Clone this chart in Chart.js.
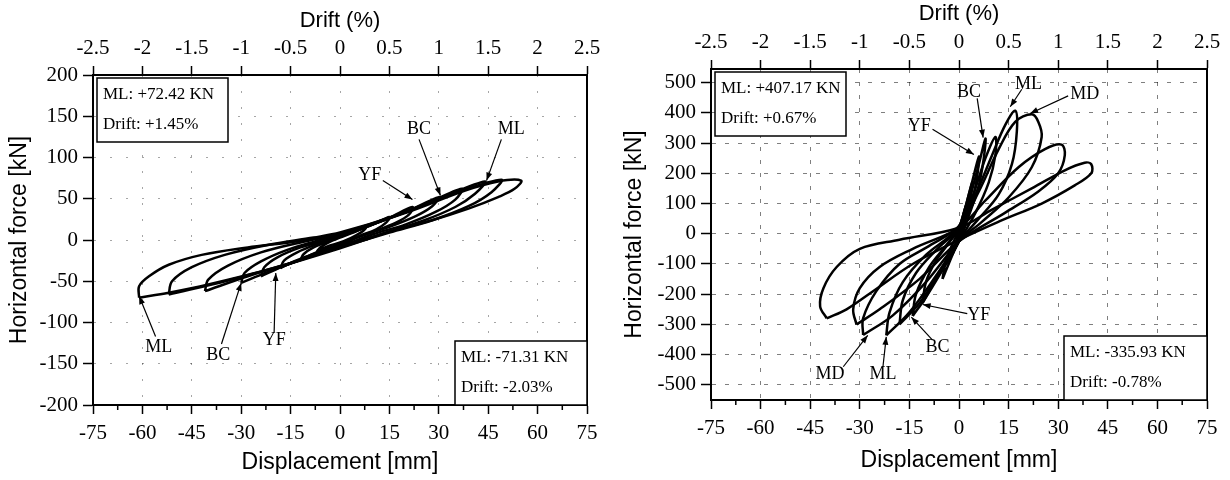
<!DOCTYPE html>
<html>
<head>
<meta charset="utf-8">
<script src="https://cdn.jsdelivr.net/npm/chart.js@4.4.1/dist/chart.umd.min.js"></script>
<style>
  body { margin: 0; background: #fff; }
  #wrap { position: relative; width: 1230px; height: 480px; }
  canvas { position: absolute; top: 0; }
</style>
</head>
<body>
<div id="wrap">
  <canvas id="leftChart" width="615" height="480" style="left:0"></canvas>
  <canvas id="rightChart" width="615" height="480" style="left:615px"></canvas>
</div>
<script>
// axis ticks
const dispTicks = [-75, -60, -45, -30, -15, 0, 15, 30, 45, 60, 75];
const driftTicks = [-2.5, -2, -1.5, -1, -0.5, 0, 0.5, 1, 1.5, 2, 2.5];
const forceTicksA = [-200, -150, -100, -50, 0, 50, 100, 150, 200];
const forceTicksB = [-500, -400, -300, -200, -100, 0, 100, 200, 300, 400, 500];

// left specimen, one array per cycle: [displacement mm, force kN]
const cycleA1 = [[-7,-14],[-6,-9],[-4,-4],[0,3],[4,9],[8,16],[7,11],[5,6],[2,0],[0,-3],[-4,-8],[-7,-14]];
const cycleA2 = [[-12,-24],[-11,-17],[-8,-9],[-3,-1],[0,4],[5,11],[10,19],[15,28],[14,21],[11,13],[6,5],[0,-5],[-6,-13],[-12,-24]];
const cycleA3 = [[-18,-34],[-17,-25],[-13,-15],[-7,-5],[0,5],[7,14],[15,27],[22,40],[21,31],[17,21],[10,10],[3,0],[0,-6],[-8,-17],[-14,-26],[-18,-34]];
const cycleA4 = [[-24,-44],[-23,-33],[-19,-21],[-12,-9],[-4,0],[0,6],[10,19],[20,34],[30,52],[28,41],[23,29],[15,16],[6,4],[0,-7],[-10,-21],[-18,-33],[-24,-44]];
const cycleA5 = [[-30,-52],[-29,-40],[-24,-26],[-16,-12],[-6,0],[0,7],[12,22],[25,42],[37,62],[35,49],[29,34],[20,19],[10,7],[0,-8],[-12,-24],[-22,-39],[-30,-52]];
const cycleA6 = [[-41,-62],[-40,-48],[-34,-31],[-24,-15],[-12,-3],[0,8],[15,27],[30,50],[44,71],[41,56],[35,40],[25,23],[13,8],[0,-8],[-14,-27],[-28,-44],[-41,-62]];
const cycleA7 = [[-52,-66],[-51,-50],[-45,-33],[-35,-18],[-22,-6],[-8,3],[0,9],[18,31],[35,57],[49,73],[46,58],[39,41],[28,24],[15,9],[0,-9],[-16,-29],[-34,-49],[-52,-66]];
const cycleA8 = [[-61,-70],[-61,-56],[-58,-44],[-52,-30],[-42,-18],[-28,-9],[-14,-2],[0,8],[20,33],[38,60],[48,71],[55,72],[53,62],[48,52],[39,38],[28,24],[15,10],[0,-10],[-20,-34],[-40,-54],[-52,-64],[-61,-70]];

// right specimen
const cycleB1 = [[-2,-70],[-1,-30],[0,10],[1,50],[2,90],[1.5,55],[0.5,10],[0,-15],[-1,-40],[-2,-70]];
const cycleB2 = [[-5,-150],[-4,-90],[-2,-35],[0,15],[2,90],[4,170],[3.5,120],[2,50],[0,-20],[-2,-70],[-5,-150]];
const cycleB3 = [[-11,-230],[-10,-160],[-7,-90],[-3,-30],[0,20],[3,130],[6,255],[5.5,190],[4,110],[1,20],[0,-25],[-4,-100],[-8,-170],[-11,-230]];
const cycleB4 = [[-14,-272],[-13,-200],[-9,-110],[-4,-40],[0,20],[3,110],[6,230],[8,315],[7.5,250],[6,160],[3,60],[0,-25],[-5,-120],[-10,-210],[-14,-272]];
const cycleB5 = [[-18,-300],[-17,-220],[-13,-130],[-7,-55],[0,20],[4,120],[8,250],[11,320],[11,260],[9,170],[5,70],[0,-25],[-6,-130],[-12,-230],[-18,-300]];
const cycleB6 = [[-22,-336],[-21,-260],[-17,-160],[-10,-70],[-3,-10],[0,25],[5,130],[10,260],[14,360],[17,407],[17.5,340],[16,230],[12,130],[6,50],[0,-25],[-7,-140],[-15,-260],[-22,-336]];
const cycleB7 = [[-29,-335],[-29,-280],[-25,-190],[-18,-100],[-9,-40],[0,25],[6,140],[12,280],[17,370],[22,395],[24,370],[25,320],[22,220],[15,120],[7,40],[0,-25],[-10,-160],[-20,-270],[-29,-335]];
const cycleB8 = [[-31,-300],[-32,-250],[-30,-180],[-24,-110],[-14,-50],[0,20],[8,110],[18,220],[26,280],[31,295],[32,260],[30,200],[24,140],[14,70],[0,-25],[-12,-150],[-24,-250],[-31,-300]];
const cycleB9 = [[-40,-280],[-42,-240],[-41,-180],[-37,-110],[-30,-50],[-18,-20],[0,20],[10,80],[22,150],[32,210],[38,235],[40,230],[40,200],[35,160],[25,100],[12,40],[0,-20],[-14,-100],[-26,-190],[-34,-250],[-40,-280]];

// callouts: text, text x/y, arrow tail x/y, arrow head x/y (data units)
const notesA = [
  ['BC', 24, 134, 24, 122, 30.5, 54],
  ['ML', 52, 134, 49, 122, 44.5, 72],
  ['YF', 9, 79, 13, 72, 22, 49],
  ['ML', -55, -130, -56, -117, -61, -68],
  ['BC', -37, -140, -36, -126, -30, -52],
  ['YF', -20, -122, -20, -112, -19.5, -40]
];
const notesB = [
  ['YF', -12, 357, -8, 346, 4.5, 262],
  ['BC', 3, 467, 5.5, 448, 7.3, 318],
  ['ML', 21, 496, 19, 478, 15.5, 420],
  ['MD', 38, 462, 33, 456, 21.5, 398],
  ['YF', 6, -271, 2.5, -264, -11, -234],
  ['BC', -6.5, -374, -8, -352, -14.4, -276],
  ['MD', -39, -466, -35, -440, -27.6, -336],
  ['ML', -23, -466, -23, -440, -22, -341]
];

const boxTextA = [['ML: +72.42 KN', 'Drift: +1.45%'], ['ML: -71.31 KN', 'Drift: -2.03%']];
const boxTextB = [['ML: +407.17 KN', 'Drift: +0.67%'], ['ML: -335.93 KN', 'Drift: -0.78%']];

const serif = 'Liberation Serif';
const sans = 'Liberation Sans';

// minor ticks on the displacement axis + right frame + callouts + boxes
const decor = {
  id: 'decor',
  afterDraw(chart, args, o) {
    const { ctx, chartArea: a, scales } = chart;
    const sx = scales.x, sy = scales.y;
    ctx.save();
    ctx.strokeStyle = '#000';
    ctx.lineWidth = 1.5;
    ctx.beginPath();
    for (let i = 0; i < dispTicks.length - 1; i++) {
      const m = sx.getPixelForValue((dispTicks[i] + dispTicks[i + 1]) / 2);
      ctx.moveTo(m, a.bottom); ctx.lineTo(m, a.bottom + 5);
    }
    ctx.stroke();
    ctx.lineWidth = 2;
    ctx.strokeRect(a.left, a.top, a.right - a.left, a.bottom - a.top);

    // callouts
    ctx.font = '18px "' + serif + '"';
    ctx.fillStyle = '#000';
    ctx.textAlign = 'center';
    ctx.textBaseline = 'middle';
    ctx.lineWidth = 1.2;
    o.notes.forEach(n => {
      const tx = sx.getPixelForValue(n[1]), ty = sy.getPixelForValue(n[2]);
      const x0 = sx.getPixelForValue(n[3]), y0 = sy.getPixelForValue(n[4]);
      const x1 = sx.getPixelForValue(n[5]), y1 = sy.getPixelForValue(n[6]);
      ctx.fillText(n[0], tx, ty);
      ctx.beginPath(); ctx.moveTo(x0, y0); ctx.lineTo(x1, y1); ctx.stroke();
      const ang = Math.atan2(y1 - y0, x1 - x0);
      ctx.beginPath();
      ctx.moveTo(x1, y1);
      ctx.lineTo(x1 - 8 * Math.cos(ang) + 3 * Math.sin(ang), y1 - 8 * Math.sin(ang) - 3 * Math.cos(ang));
      ctx.lineTo(x1 - 8 * Math.cos(ang) - 3 * Math.sin(ang), y1 - 8 * Math.sin(ang) + 3 * Math.cos(ang));
      ctx.closePath(); ctx.fill();
    });

    // info boxes
    ctx.font = '17px "' + serif + '"';
    ctx.textAlign = 'left';
    o.boxes.forEach((b, i) => {
      const w = o.boxW[i], h = 64;
      const x = i === 0 ? a.left + 4 : a.right - w;
      const y = i === 0 ? a.top + 3 : a.bottom - h;
      ctx.fillStyle = '#fff';
      ctx.fillRect(x, y, w, h);
      ctx.strokeStyle = '#000';
      ctx.lineWidth = 1.5;
      ctx.strokeRect(x, y, w, h);
      ctx.fillStyle = '#000';
      ctx.fillText(b[0], x + 6, y + 17);
      ctx.fillText(b[1], x + 6, y + 47);
    });
    ctx.restore();
  }
};

function makeChart(id, cycles, forceTicks, yMin, yMax, cfg) {
  new Chart(document.getElementById(id), {
    type: 'scatter',
    data: {
      datasets: cycles.map(c => ({
        data: c.map(p => ({ x: p[0], y: p[1] })),
        showLine: true,
        borderColor: '#000',
        borderWidth: 2.5,
        pointRadius: 0,
        tension: 0.35,
        fill: false
      }))
    },
    options: {
      responsive: false,
      animation: false,
      devicePixelRatio: 1,
      layout: { padding: { right: cfg.right } },
      plugins: {
        legend: { display: false },
        tooltip: { enabled: false },
        decor: { notes: cfg.notes, boxes: cfg.boxes, boxW: cfg.boxW }
      },
      scales: {
        x: {
          type: 'linear', position: 'bottom', min: -75, max: 75,
          afterBuildTicks: s => { s.ticks = dispTicks.map(v => ({ value: v })); },
          afterFit: s => { s.height = cfg.bottom; },
          ticks: { color: '#000', font: { family: serif, size: 21 }, padding: 7, autoSkip: false, maxRotation: 0, callback: v => String(v) },
          grid: { color: cfg.grid, tickColor: '#000', tickLength: 9, tickWidth: 1.5, tickBorderDash: [] },
          border: { color: '#000', width: 2, dash: cfg.dash },
          title: { display: true, text: 'Displacement [mm]', color: '#000', font: { family: sans, size: 23 }, padding: { top: 0, bottom: cfg.titleBottom } }
        },
        x2: {
          type: 'linear', position: 'top', min: -2.5, max: 2.5,
          afterBuildTicks: s => { s.ticks = driftTicks.map(v => ({ value: v })); },
          afterFit: s => { s.height = cfg.top; },
          ticks: { color: '#000', font: { family: serif, size: 21 }, padding: cfg.topPad, autoSkip: false, maxRotation: 0, callback: v => String(v) },
          grid: { drawOnChartArea: false, tickColor: '#000', tickLength: 9, tickWidth: 1.5 },
          border: { color: '#000', width: 2 },
          title: { display: true, text: 'Drift (%)', color: '#000', font: { family: sans, size: 22 }, padding: { top: cfg.titleTop, bottom: 0 } }
        },
        y: {
          type: 'linear', position: 'left', min: yMin, max: yMax,
          afterBuildTicks: s => { s.ticks = forceTicks.map(v => ({ value: v })); },
          afterFit: s => { s.width = cfg.left; },
          ticks: { color: '#000', font: { family: serif, size: 21 }, padding: 5, autoSkip: false, callback: v => String(v) },
          grid: { color: cfg.grid, tickColor: '#000', tickLength: 10, tickWidth: 1.5, tickBorderDash: [] },
          border: { color: '#000', width: 2, dash: cfg.dash },
          title: { display: true, text: 'Horizontal force [kN]', color: '#000', font: { family: sans, size: 23 }, padding: { top: 6, bottom: 0 } }
        }
      }
    },
    plugins: [decor]
  });
}

makeChart('leftChart', [cycleA1, cycleA2, cycleA3, cycleA4, cycleA5, cycleA6, cycleA7, cycleA8],
  forceTicksA, -200, 200,
  { left: 93, right: 28, top: 75, bottom: 75, topPad: 5, titleTop: 8, titleBottom: 4,
    grid: 'rgba(0,0,0,0.35)', dash: [2, 14], notes: notesA, boxes: boxTextA, boxW: [131, 132] });

makeChart('rightChart', [cycleB1, cycleB2, cycleB3, cycleB4, cycleB5, cycleB6, cycleB7, cycleB8, cycleB9],
  forceTicksB, -550, 545,
  { left: 96, right: 23, top: 69, bottom: 80, topPad: 5, titleTop: 1, titleBottom: 6,
    grid: 'rgba(0,0,0,0.5)', dash: [4, 9], notes: notesB, boxes: boxTextB, boxW: [131, 143] });
</script>
</body>
</html>
